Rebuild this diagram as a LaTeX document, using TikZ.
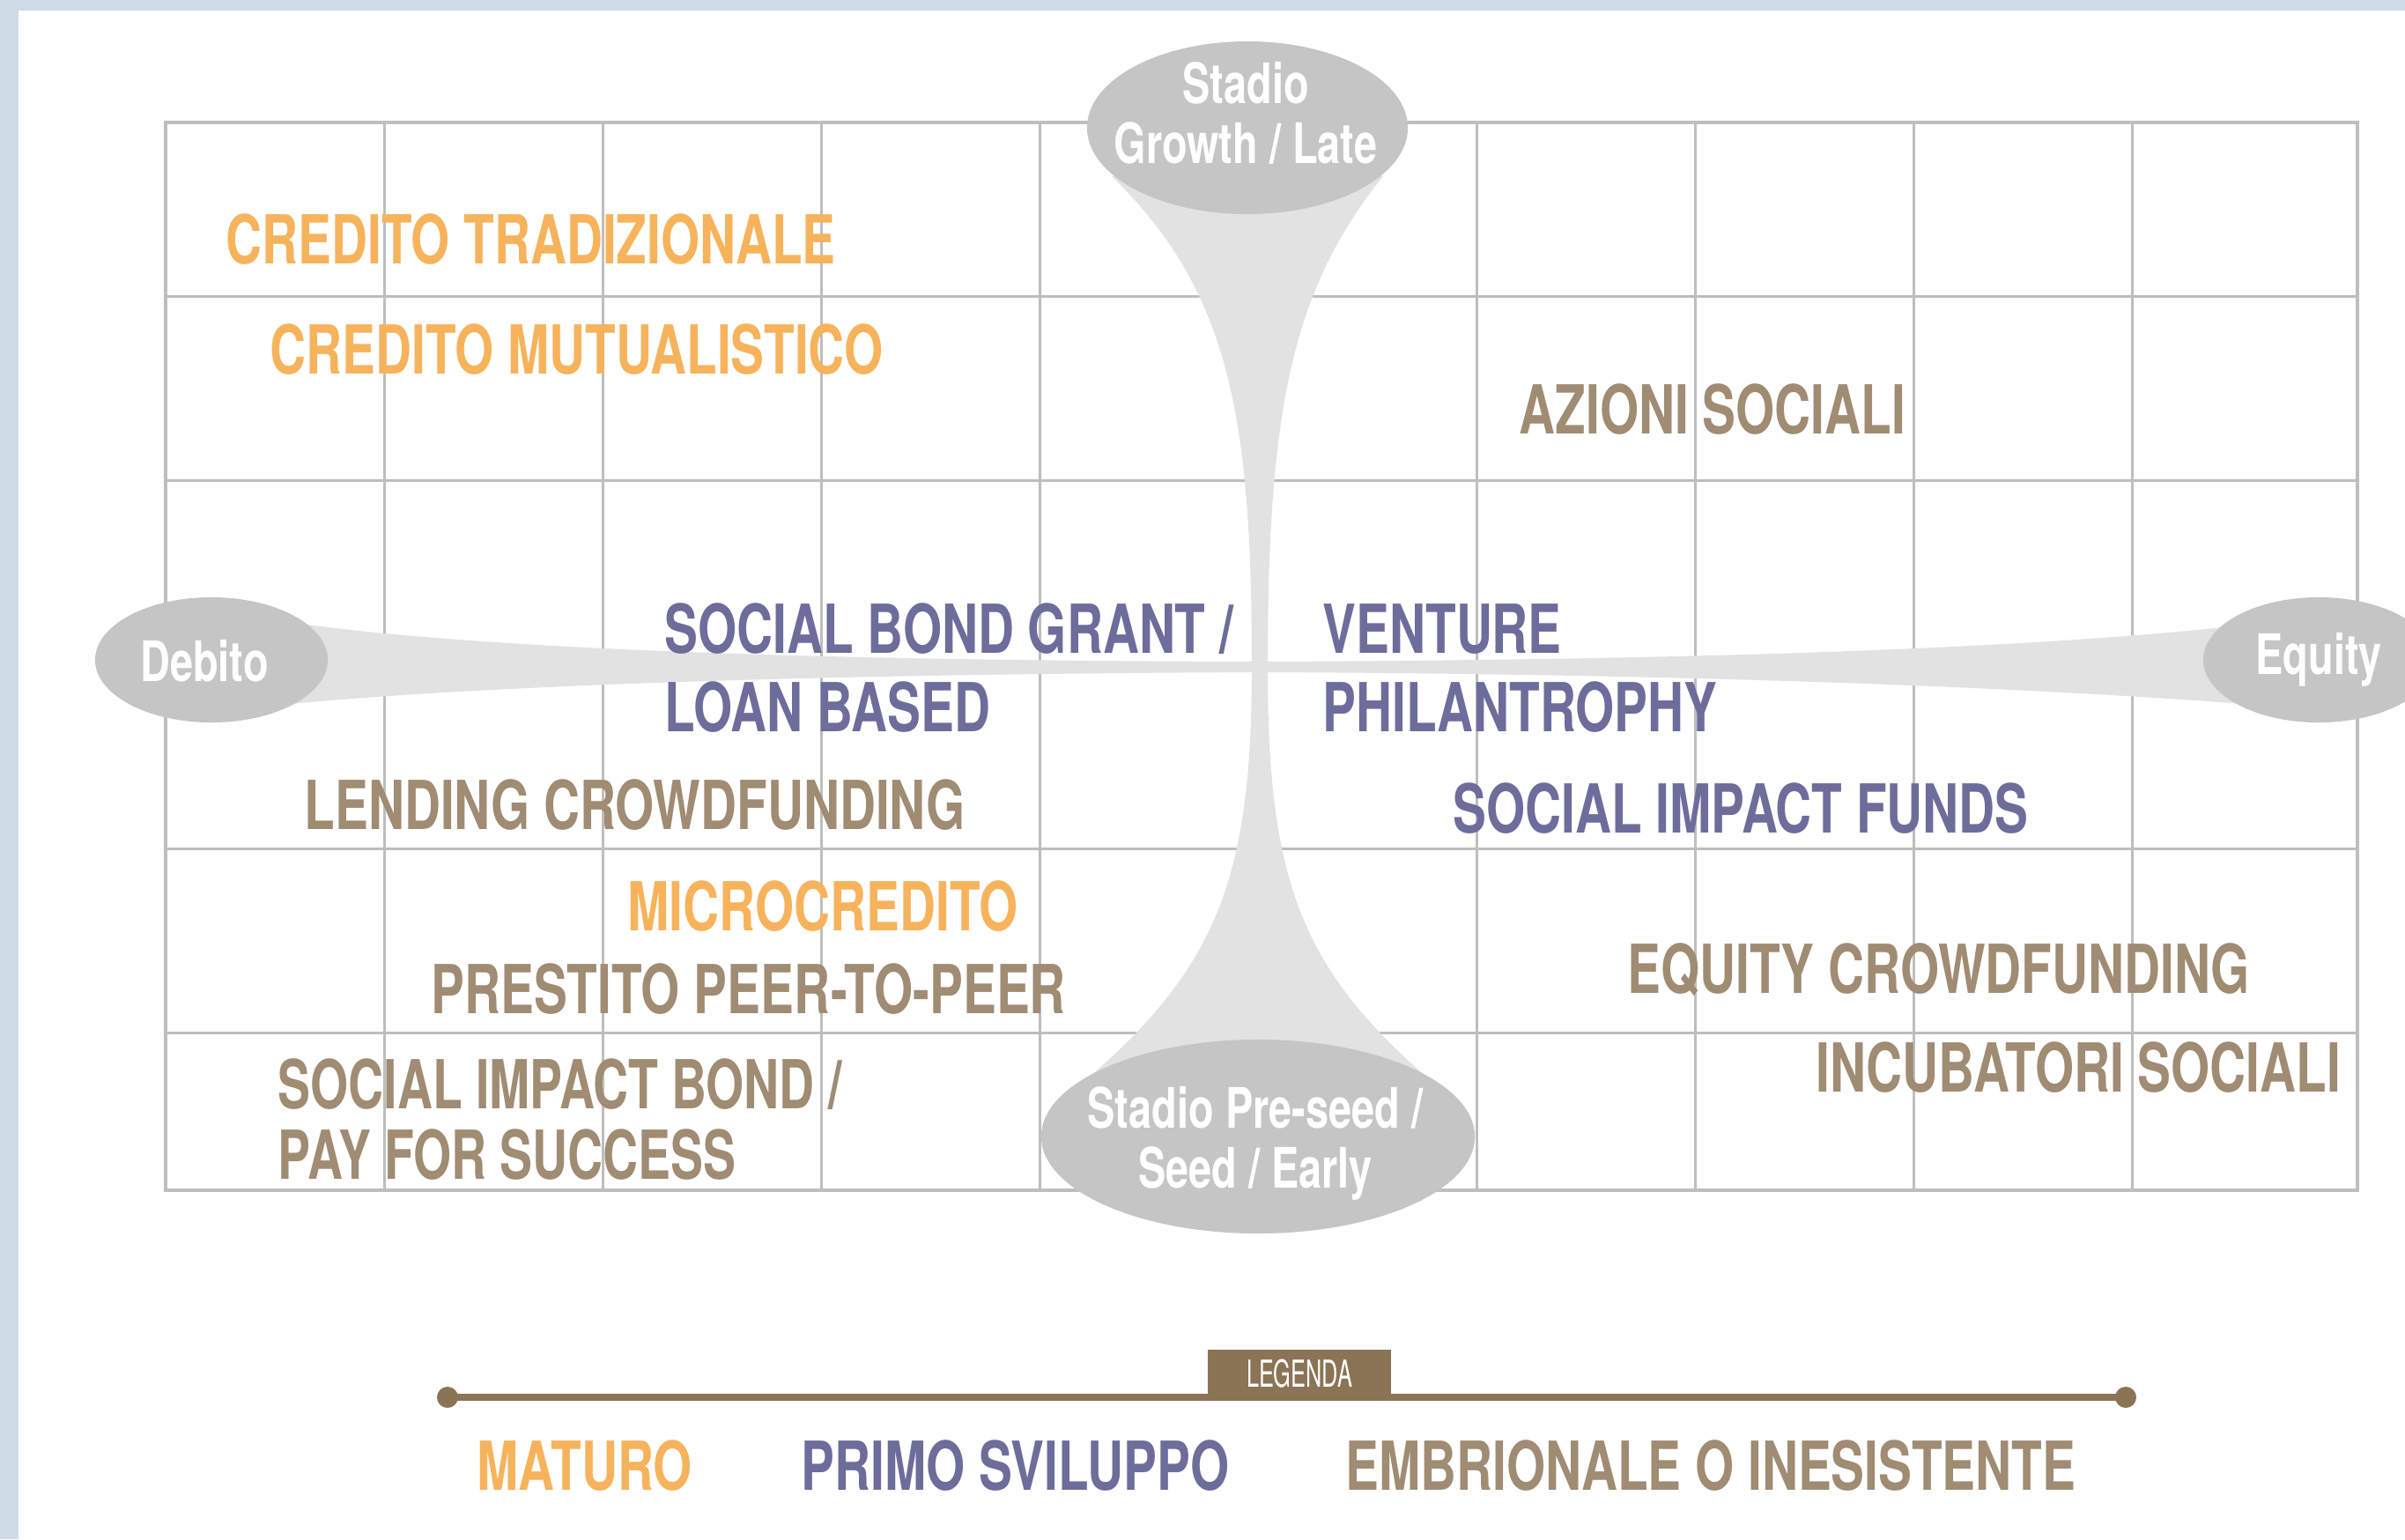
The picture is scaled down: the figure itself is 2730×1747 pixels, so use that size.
\documentclass[tikz,border=0pt]{standalone}
\usepackage{fontspec}
\setmainfont{TeX Gyre Heros}[FakeStretch=0.74]
\newfontfamily\legendafont{TeX Gyre Heros}[FakeStretch=0.6]
\usetikzlibrary{shapes.geometric}
\definecolor{bgblue}{HTML}{CFDBE6}
\definecolor{gridgray}{HTML}{BEBEBE}
\definecolor{stagegray}{HTML}{C5C5C5}
\definecolor{funnelgray}{HTML}{E2E2E2}
\definecolor{maturo}{HTML}{F7B35B}
\definecolor{primo}{HTML}{6D6C9B}
\definecolor{embrio}{HTML}{A08B73}
\definecolor{legbrown}{HTML}{8B7355}
\tikzset{grid line/.style={draw=gridgray,line width=0.85pt},
  voice node/.style={anchor=base west,inner sep=0pt,font=\fontsize{21.8}{26}\selectfont\bfseries},
  orange node/.style={voice node,text=maturo},
  blue node/.style={voice node,text=primo},
  brown node/.style={voice node,text=embrio},
  narrow/.style={xscale=0.976,transform shape},
  stage node/.style={ellipse,fill=stagegray,inner sep=0pt},
  stage text/.style={text=white,inner sep=0pt,align=center,font=\fontsize{18}{19.3}\selectfont\bfseries},
  legend dot/.style={circle,fill=legbrown,inner sep=0pt,minimum size=0.24cm},}

\begin{document}
\begin{tikzpicture}[x=0.01cm,y=-0.01cm]
  \clip (0,0) rectangle (2730,1747);
  \fill[bgblue] (0,0) rectangle (2730,1747);
  \fill[white] (21,12) rectangle (2730,1747);
  %% Grid
  \foreach \gx in {1,...,9}
    \draw[grid line] ({188+248*\gx},139) -- ({188+248*\gx},1351);
  \foreach \gy in {336,545,754,963,1172}
    \draw[grid line] (188,\gy) -- (2676,\gy);
  \draw[grid line,line width=1.1pt] (188,139) rectangle (2676,1351);
  %% Funnels
  \fill[funnelgray] (1262,200) .. controls (1395,330) and (1421,470) .. (1421,757)
    .. controls (1421,1000) and (1380,1100) .. (1228,1230) -- (1628,1230)
    .. controls (1476,1100) and (1439,1000) .. (1439,757)
    .. controls (1439,470) and (1465,330) .. (1570,200) -- cycle;
  \fill[funnelgray] (320,705) .. controls (520,735) and (900,750) .. (1432,751)
    .. controls (1950,749) and (2330,735) .. (2560,708) -- (2560,800)
    .. controls (2330,782) and (1950,765) .. (1432,763)
    .. controls (900,765) and (520,780) .. (320,800) -- cycle;
  %% Stages
  \node[stage node,minimum width=3.64cm,minimum height=1.96cm] (growth) at (1416,145) {};
  \node[stage node,minimum width=4.92cm,minimum height=2.2cm] (seed) at (1428,1290) {};
  \node[stage node,minimum width=2.64cm,minimum height=1.42cm] (debito) at (240,749) {};
  \node[stage node,minimum width=2.62cm,minimum height=1.42cm] (equity) at (2632,749) {};
  \node[stage text] (growthtxt) at (1414,128) {Stadio\\Growth / Late};
  \node[stage text] (seedtxt) at (1425,1298) {Stadio Pre-seed /\\Seed / Early};
  \node[stage text] (debitotxt) at (232,750) {Debito};
  \node[stage text] (equitytxt) at (2632,749) {Equity};
  %% Instruments
  \node[orange node] (tradiz) at (256,299) {CREDITO TRADIZIONALE};
  \node[orange node] (mutual) at (306,424) {CREDITO MUTUALISTICO};
  \node[brown node] (azioni) at (1724,492) {AZIONI SOCIALI};
  \node[blue node] (bond1) at (754,741) {SOCIAL BOND GRANT /};
  \node[blue node] (bond2) at (754,830) {LOAN BASED};
  \node[blue node] (venture1) at (1501,741) {VENTURE};
  \node[blue node] (venture2) at (1501,830) {PHILANTROPHY};
  \node[brown node] (lending) at (345,941) {LENDING CROWDFUNDING};
  \node[blue node] (funds) at (1649,945) {SOCIAL IMPACT FUNDS};
  \node[orange node] (micro) at (712,1056) {MICROCREDITO};
  \node[brown node] (peer) at (489,1150) {PRESTITO PEER-TO-PEER};
  \node[brown node] (eqcrowd) at (1847,1127) {EQUITY CROWDFUNDING};
  \node[brown node] (incub) at (2061,1239) {INCUBATORI SOCIALI};
  \node[brown node,narrow] (sib1) at (315,1258) {SOCIAL IMPACT BOND /};
  \node[brown node,narrow] (sib2) at (315,1338) {PAY FOR SUCCESS};
  %% Legend
  \node[legend dot] (legL) at (508,1586) {};
  \node[legend dot] (legR) at (2413,1586) {};
  \draw[legbrown,line width=2.3pt] (legL.center) -- (legR.center);
  \node[fill=legbrown,text=white,inner sep=0pt,minimum width=2.07cm,minimum height=0.54cm,
    font=\legendafont\fontsize{12}{13}\selectfont] (legenda) at (1475,1559) {LEGENDA};
  \node[orange node] (maturo) at (541,1691) {MATURO};
  \node[blue node] (primo) at (909,1691) {PRIMO SVILUPPO};
  \node[brown node] (embrio) at (1527,1691) {EMBRIONALE O INESISTENTE};
\end{tikzpicture}
\end{document}
